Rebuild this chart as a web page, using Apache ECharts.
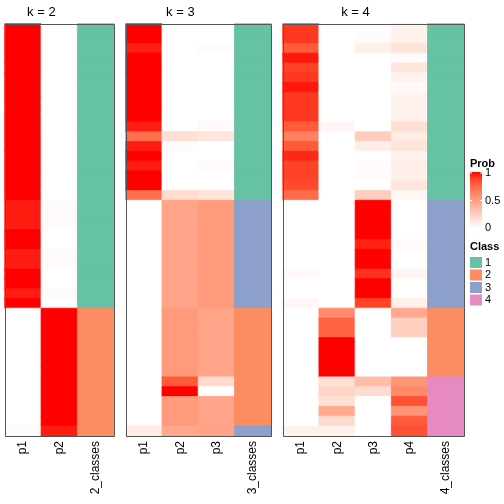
<!DOCTYPE html>
<html>
<head>
<meta charset="utf-8">
<script src="https://cdn.jsdelivr.net/npm/echarts@6/dist/echarts.min.js"></script>
<style>html,body{margin:0;padding:0;background:#fff}#c{width:504px;height:504px}</style>
</head>
<body>
<div id="c"></div>
<script>
// ---- data (rows top to bottom) ----
const k2_cols = ['p1', 'p2', '2_classes'];
const k3_cols = ['p1', 'p2', 'p3', '3_classes'];
const k4_cols = ['p1', 'p2', 'p3', 'p4', '4_classes'];

const k2_p1 = [1,1,1,1,1,1,1,1,1,1, 1,1,1,1,1,1,1,1,0.95,0.95, 0.95,1,1,0.95,0.95,1,1,0.95,1,0, 0,0,0,0,0,0,0,0,0,0, 0,0.02];
const k2_p2 = [0,0,0,0,0,0,0,0,0,0, 0,0,0,0,0,0,0,0,0.02,0.02, 0.02,0,0,0.02,0.02,0,0,0.02,0,1, 1,1,1,1,1,1,1,1,1,1, 1,0.95];
const k2_cls = [1,1,1,1,1,1,1,1,1,1, 1,1,1,1,1,1,1,1,1,1, 1,1,1,1,1,1,1,1,1,2, 2,2,2,2,2,2,2,2,2,2, 2,2];

const k3_p1 = [1,1,0.95,1,1,1,1,1,1,1, 0.95,0.72,0.95,1,0.95,1,1,0.72,0,0, 0,0,0,0,0,0,0,0,0,0, 0,0,0,0,0,0,0,0,0,0, 0,0.1];
const k3_p2 = [0,0,0,0,0,0,0,0,0,0, 0,0.16,0.02,0,0,0,0,0.18,0.47,0.47, 0.47,0.47,0.47,0.47,0.47,0.47,0.47,0.47,0.47,0.52, 0.52,0.52,0.52,0.52,0.52,0.52,0.8,1,0.52,0.52, 0.52,0.45];
const k3_p3 = [0,0,0.02,0,0,0,0,0,0,0, 0.03,0.13,0,0,0.02,0,0,0.14,0.52,0.52, 0.52,0.52,0.52,0.52,0.52,0.52,0.52,0.52,0.52,0.47, 0.47,0.47,0.47,0.47,0.47,0.47,0.19,0,0.47,0.47, 0.47,0.48];
const k3_cls = [1,1,1,1,1,1,1,1,1,1, 1,1,1,1,1,1,1,1,3,3, 3,3,3,3,3,3,3,3,3,2, 2,2,2,2,2,2,2,2,2,2, 2,3];

const k4_p1 = [0.9,0.9,0.8,0.96,0.88,0.9,0.96,0.9,0.9,0.9, 0.8,0.64,0.8,0.93,0.88,0.88,0.86,0.73,0,0, 0,0,0,0,0,0.03,0,0,0.04,0, 0,0,0,0,0,0,0,0,0,0, 0,0.07];
const k4_p2 = [0,0,0,0,0,0,0,0,0,0, 0.05,0,0,0,0,0,0,0,0,0, 0,0,0,0,0,0,0,0,0,0.6, 0.77,0.77,1,1,1,1,0.16,0.22,0.16,0.44, 0.2,0.07];
const k4_p3 = [0,0.02,0.08,0,0,0,0,0,0,0, 0,0.26,0.09,0,0.02,0.02,0,0.26,1,1, 1,1,0.94,1,1,0.91,1,1,0.88,0, 0,0,0,0,0,0,0.35,0.18,0,0, 0,0];
const k4_p4 = [0.07,0.07,0.14,0.02,0.13,0.06,0.03,0.06,0.07,0.07, 0.17,0.1,0.14,0.06,0.09,0.08,0.13,0.04,0,0, 0,0,0.03,0,0,0.05,0,0,0.08,0.44, 0.25,0.25,0,0,0,0,0.54,0.6,0.83,0.54, 0.8,0.83];
const k4_cls = [1,1,1,1,1,1,1,1,1,1, 1,1,1,1,1,1,1,1,3,3, 3,3,3,3,3,3,3,3,3,2, 2,2,2,2,2,2,4,4,4,4, 4,4];

const titles = ['k = 2', 'k = 3', 'k = 4'];
const probTicks = ['1', '0.5', '0'];
const classLabels = ['1', '2', '3', '4'];

// ---- styling ----
const classColors = ['#66C2A5', '#FC8D62', '#8DA0CB', '#E78AC3'];
const probColors = ['#FFFFFF','#FFE7DE','#FFCFBF','#FFB7A0','#FF9E81','#FF8464','#FF6846','#FF4628','#FF0000'];
const FONT = '"Liberation Sans", Arial, Helvetica, sans-serif';

const panels = [
  {cols: k2_cols, probs: [k2_p1, k2_p2], cls: k2_cls, left: 5, width: 109},
  {cols: k3_cols, probs: [k3_p1, k3_p2, k3_p3], cls: k3_cls, left: 126, width: 145},
  {cols: k4_cols, probs: [k4_p1, k4_p2, k4_p3, k4_p4], cls: k4_cls, left: 283, width: 181}
];
const TOP = 24, HEIGHT = 412;
const rowIds = k2_cls.map((_, i) => 'r' + i);

const grid = [], xAxis = [], yAxis = [], series = [], graphic = [];
const probIdx = [], clsIdx = [];
panels.forEach((p, g) => {
  grid.push({left: p.left, top: TOP, width: p.width, height: HEIGHT, containLabel: false});
  xAxis.push({
    type: 'category', gridIndex: g, data: p.cols, position: 'bottom',
    axisLine: {show: false}, axisTick: {show: false}, splitLine: {show: false},
    axisLabel: {rotate: 90, fontSize: 12, color: '#000', margin: 5, fontFamily: FONT, interval: 0}
  });
  yAxis.push({
    type: 'category', gridIndex: g, data: rowIds, inverse: true,
    axisLine: {show: false}, axisTick: {show: false}, axisLabel: {show: false}, splitLine: {show: false}
  });
  // border in the cell's own colour hides anti-aliasing seams between rows
  const pd = [];
  p.probs.forEach((arr, c) => arr.forEach((v, r) => pd.push({
    value: [c, r, v], itemStyle: {borderColor: echarts.color.lerp(v, probColors), borderWidth: 0.8}
  })));
  probIdx.push(series.length);
  series.push({type: 'heatmap', xAxisIndex: g, yAxisIndex: g, data: pd, emphasis: {disabled: true}, progressive: 0});
  const cd = p.cls.map((v, r) => ({
    value: [p.probs.length, r, v], itemStyle: {borderColor: classColors[v - 1], borderWidth: 0.8}
  }));
  clsIdx.push(series.length);
  series.push({type: 'heatmap', xAxisIndex: g, yAxisIndex: g, data: cd, emphasis: {disabled: true}, progressive: 0});

  // frame
  graphic.push({type: 'rect', z: 100, shape: {x: p.left + 0.5, y: TOP + 0.5, width: p.width, height: HEIGHT},
    style: {fill: 'none', stroke: '#555', lineWidth: 1}});
  // title centered over probability columns
  const colW = p.width / p.cols.length;
  graphic.push({type: 'text', z: 100, x: p.left + colW * p.probs.length / 2, y: 12,
    style: {text: titles[g], fontSize: 13, fontFamily: FONT, fill: '#000', textAlign: 'center', textVerticalAlign: 'middle'}});
});

// legend: Prob
const LX = 470;
graphic.push({type: 'text', x: LX, y: 164, style: {text: 'Prob', fontSize: 11, fontWeight: 'bold', fontFamily: FONT, fill: '#000', textVerticalAlign: 'middle'}});
const barTop = 172, barH = 56;
graphic.push({type: 'rect', shape: {x: LX, y: barTop, width: 12, height: barH},
  style: {fill: new echarts.graphic.LinearGradient(0, 0, 0, 1,
    probColors.slice().reverse().map((c, i) => ({offset: i / (probColors.length - 1), color: c})))}});
probTicks.forEach((t, i) => {
  const y = barTop + 1 + i * (barH - 1) / 2;
  graphic.push({type: 'text', x: LX + 15, y: y, style: {text: t, fontSize: 11, fontFamily: FONT, fill: '#000', textVerticalAlign: 'middle'}});
  graphic.push({type: 'line', shape: {x1: LX, y1: y, x2: LX + 2, y2: y}, style: {stroke: '#fff', lineWidth: 1}});
  graphic.push({type: 'line', shape: {x1: LX + 10, y1: y, x2: LX + 12, y2: y}, style: {stroke: '#fff', lineWidth: 1}});
});
// legend: Class
graphic.push({type: 'text', x: LX, y: 247, style: {text: 'Class', fontSize: 11, fontWeight: 'bold', fontFamily: FONT, fill: '#000', textVerticalAlign: 'middle'}});
classLabels.forEach((t, i) => {
  const y = 257 + i * 12.5;
  graphic.push({type: 'rect', shape: {x: LX, y: y, width: 12, height: 11}, style: {fill: classColors[i]}});
  graphic.push({type: 'text', x: LX + 15, y: y + 5.5, style: {text: t, fontSize: 11, fontFamily: FONT, fill: '#000', textVerticalAlign: 'middle'}});
});

const chart = echarts.init(document.getElementById('c'), null, {renderer: 'canvas'});
chart.setOption({
  animation: false,
  backgroundColor: '#fff',
  grid, xAxis, yAxis, series, graphic,
  visualMap: [
    {type: 'continuous', show: false, min: 0, max: 1, seriesIndex: probIdx, inRange: {color: probColors}},
    {type: 'piecewise', show: false, seriesIndex: clsIdx,
      pieces: classLabels.map((l, i) => ({value: Number(l), color: classColors[i]}))}
  ]
});
</script>
</body>
</html>
